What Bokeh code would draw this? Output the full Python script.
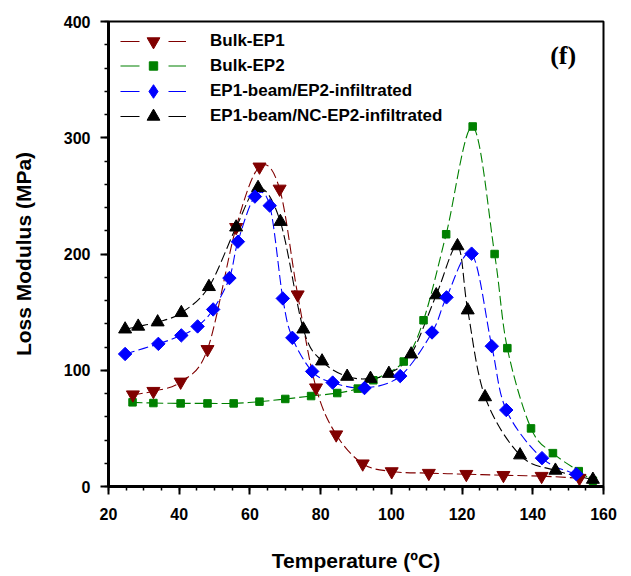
import numpy as np
from bokeh.plotting import figure
from bokeh.models import Legend, LegendItem, Label, Range1d, SingleIntervalTicker
from bokeh.embed import file_html
from bokeh.resources import INLINE

# ---- data ----
temp_ep1 = [26.9, 32.7, 40.4, 48.0, 56.1, 62.7, 68.4, 73.5, 78.7, 84.4, 91.9, 100.1, 110.6, 121.2, 131.7, 142.5, 153.2]
mod_ep1 = [79, 82, 90, 118, 223, 275, 256, 165, 85, 44.6, 19.6, 12.9, 11.5, 10.6, 9.7, 8.9, 7.2]

temp_ep2 = [26.8, 32.7, 40.4, 48.0, 55.4, 62.7, 70.0, 77.3, 84.7, 90.5, 94.9, 103.5, 109.1, 115.5, 123.0, 129.2, 132.8, 139.5, 145.7, 153.0, 157.0]
mod_ep2 = [72.4, 71.8, 71.5, 71.5, 71.5, 73, 75.3, 77.8, 80.4, 84.2, 91.4, 107.5, 143, 217, 309.7, 200, 119, 50, 28.7, 13.2, 5]

temp_beam = [24.7, 34.1, 40.6, 45.2, 49.6, 54.2, 56.6, 61.4, 65.6, 69.3, 72.0, 77.6, 83.4, 92.4, 102.5, 111.5, 115.6, 122.7, 128.4, 132.5, 142.6, 152.3]
mod_beam = [114, 122.7, 130, 137.7, 152.3, 179.3, 210.6, 249.4, 241.6, 161.8, 127.9, 99, 89.4, 84.7, 95, 132.5, 162.7, 200.3, 120.7, 65.8, 24.4, 10.6]

temp_nc = [24.7, 28.4, 33.9, 40.6, 48.4, 56.1, 62.3, 68.6, 75.1, 80.4, 87.5, 94.1, 99.3, 105.6, 112.7, 118.7, 121.6, 126.5, 136.4, 146.4, 157.0]
mod_nc = [135.3, 137.7, 141.4, 149.4, 171.8, 223, 257, 227.8, 135.3, 107.8, 94.6, 92.8, 97.1, 113.8, 164.7, 206.9, 151.7, 77, 27, 13.8, 6]

labels = ["Bulk-EP1", "Bulk-EP2", "EP1-beam/EP2-infiltrated", "EP1-beam/NC-EP2-infiltrated"]

FONT = "Liberation Sans"
NAN = [float("nan")]

p = figure(width=631, height=576, output_backend="svg", toolbar_location=None,
           x_range=Range1d(20, 160), y_range=Range1d(0, 400),
           min_border_left=108, min_border_right=28, min_border_top=21, min_border_bottom=90)
p.xgrid.visible = False
p.ygrid.visible = False
p.outline_line_color = "black"
p.outline_line_width = 2
p.outline_line_alpha = 1
p.background_fill_color = "white"

p.xaxis.ticker = SingleIntervalTicker(interval=20, num_minor_ticks=4)
p.yaxis.ticker = SingleIntervalTicker(interval=100, num_minor_ticks=5)
for ax in (p.xaxis[0], p.yaxis[0]):
    ax.axis_line_width = 3
    ax.axis_line_color = "black"
    ax.major_tick_out = 8
    ax.major_tick_in = 0
    ax.minor_tick_out = 4
    ax.minor_tick_in = 0
    ax.major_tick_line_width = 2
    ax.minor_tick_line_width = 1.5
    ax.major_tick_line_color = "black"
    ax.minor_tick_line_color = "black"
    ax.major_label_text_font = FONT
    ax.major_label_text_font_size = "16px"
    ax.major_label_text_font_style = "bold"
    ax.major_label_text_color = "black"
    ax.axis_label_text_font = FONT
    ax.axis_label_text_font_size = "21px"
    ax.axis_label_text_font_style = "bold"
    ax.axis_label_text_color = "black"
p.xaxis.major_label_standoff = 13
p.yaxis.major_label_standoff = 10
p.xaxis.axis_label = "Temperature (ºC)"
p.yaxis.axis_label = "Loss Modulus (MPa)"
p.xaxis.axis_label_standoff = 26
p.yaxis.axis_label_standoff = 26


def smooth(xs, ys):
    x = np.asarray(xs, float)
    y = np.asarray(ys, float)
    xe = np.r_[x[0], x, x[-1]]
    ye = np.r_[y[0], y, y[-1]]
    n = len(x)
    i = np.arange(n - 1)
    cx0 = xe[i + 1] + (xe[i + 2] - xe[i]) / 6
    cy0 = ye[i + 1] + (ye[i + 2] - ye[i]) / 6
    cx1 = xe[i + 2] - (xe[i + 3] - xe[i + 1]) / 6
    cy1 = ye[i + 2] - (ye[i + 3] - ye[i + 1]) / 6
    return dict(x0=x[:-1], y0=y[:-1], x1=x[1:], y1=y[1:], cx0=cx0, cy0=cy0, cx1=cx1, cy1=cy1)


series = [
    (temp_ep2, mod_ep2, "#008000", "square", 7.5, 0.0),
    (temp_ep1, mod_ep1, "#800000", "inverted_triangle", 13, 0.0),
    (temp_nc, mod_nc, "#000000", "triangle", 13, 0.0),
    (temp_beam, mod_beam, "#0000FF", "square", 9.5, np.pi / 4),
]
scat = {}
for xs, ys, col, mk, sz, ang in series:
    p.bezier(**smooth(xs, ys), line_color=col, line_width=1.1, line_dash="10 4")
for xs, ys, col, mk, sz, ang in series:
    scat[col] = p.scatter(xs, ys, marker=mk, size=sz, angle=ang, fill_color=col, line_color=col)

# legend-only marker for the diamond series (legend markers ignore angle)
scat_leg_blue = p.scatter(NAN, NAN, marker="diamond", fill_color="#0000FF", line_color="#0000FF")

# legends (one per entry so each marker keeps its own size)
frame_h = 465
leg_spec = [
    (labels[0], "#800000", scat["#800000"], 19.7, 32),
    (labels[1], "#008000", scat["#008000"], 44.7, 21),
    (labels[2], "#0000FF", scat_leg_blue, 69.7, 34),
    (labels[3], "#000000", scat["#000000"], 94.7, 32),
]
for lab, col, sr, c, gh in leg_spec:
    ll = p.line(x=NAN, y=NAN, line_color=col, line_width=1.1, line_dash="19 29")
    leg = Legend(items=[LegendItem(label=lab, renderers=[ll, sr])],
                 location=(12, frame_h - c - gh / 2), glyph_width=66, glyph_height=gh,
                 padding=0, margin=0, label_standoff=24, spacing=0,
                 label_text_font=FONT, label_text_font_size="17px", label_text_font_style="bold",
                 label_text_color="black", background_fill_alpha=0, border_line_alpha=0)
    p.add_layout(leg)

p.add_layout(Label(x=148.6, y=371, text="(f)", text_font="Liberation Serif", text_font_style="bold",
                   text_font_size="26px", text_align="center", text_baseline="middle", text_color="black"))

open("out.html", "w").write(file_html(p, INLINE))
